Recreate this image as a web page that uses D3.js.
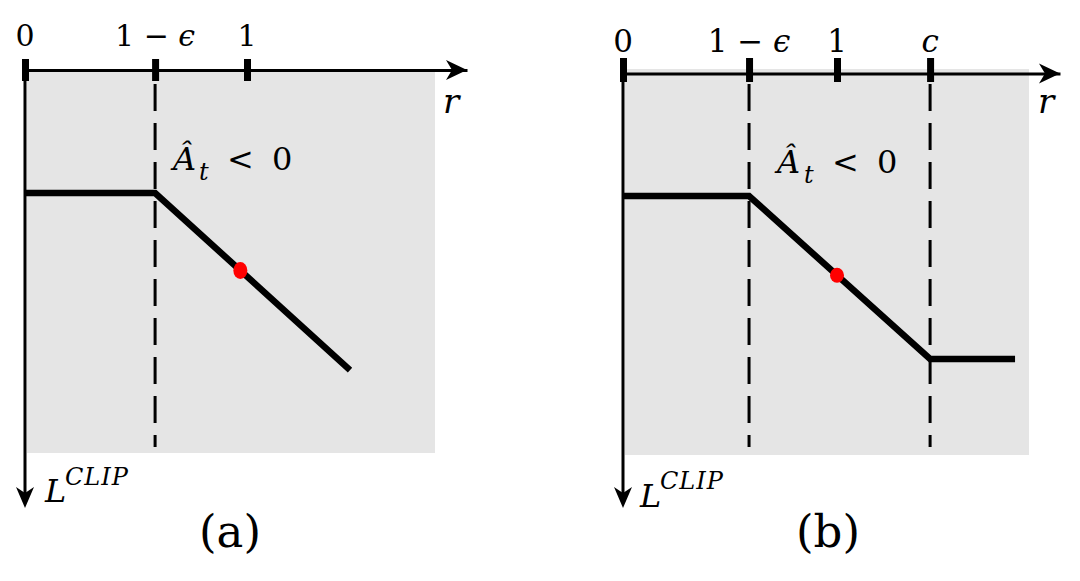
<!DOCTYPE html>
<html><head><meta charset="utf-8">
<script src="https://cdn.jsdelivr.net/npm/d3@7"></script>
<style>body{margin:0;background:#fff}svg{display:block}
svg text{font-family:"DejaVu Serif",serif;}</style>
</head><body>
<svg id="c" width="1080" height="581"></svg>
<script>
// ---------- data ----------
const panelNames = ["(a)", "(b)"];
const tickValuesA = [0, 0.586, 1];
const tickLabelsA = ["0", "1 − ϵ", "1"];
const curveRA = [0, 0.586, 1.464];
const curveLA = [0.586, 0.586, 1.464];
const dashedRA = [0.586];
const dotA = [0.97, 0.97];

const tickValuesB = [0, 0.589, 1, 1.435];
const tickLabelsB = ["0", "1 − ϵ", "1", "c"];
const curveRB = [0, 0.589, 1.435, 1.832];
const curveLB = [0.589, 0.589, 1.435, 1.435];
const dashedRB = [0.589, 1.435];
const dotB = [1.0, 1.0];

const xAxisLabel = "r";
const yAxisLabel = ["L", "CLIP"];
const regionLabel = ["Â", "t", "<", "0"];

// ---------- layout ----------
const layouts = [
  {ticks: tickValuesA, labels: tickLabelsA, cr: curveRA, cl: curveLA, dashed: dashedRA, dot: dotA,
   x0: 25, xUnit: 222, rTip: 1.991, axisY: 70, tickTop: 59, tickBot: 81, labelY: 46, fs: 30,
   yOrigin: 74.9, yUnit: 201.6, yTip: 508, gray: [27, 72, 435, 453], dashTop: 84, dashBot: 447,
   rX: 443, rY: 113, aX: 173, aY: 170, tX: 199, lessX: 227, zeroX: 272,
   LX: 45, LY: 502, clipX: 65, clipY: 485, capX: 230, capY: 547, dotRx: 7, dotRy: 8.5},
  {ticks: tickValuesB, labels: tickLabelsB, cr: curveRB, cl: curveLB, dashed: dashedRB, dot: dotB,
   x0: 623, xUnit: 214, rTip: 2.042, axisY: 73.5, tickTop: 58, tickBot: 82, labelY: 52, fs: 31,
   yOrigin: 82.5, yUnit: 192.7, yTip: 508, gray: [625, 69, 1029, 455], dashTop: 84, dashBot: 447,
   rX: 1038, rY: 113, aX: 777, aY: 173, tX: 804, lessX: 832, zeroX: 877,
   LX: 640, LY: 507, clipX: 660, clipY: 489, capX: 828, capY: 547, dotRx: 7, dotRy: 7.5}
];

const svg = d3.select("#c");

layouts.forEach((L, i) => {
  const g = svg.append("g");
  const x = d3.scaleLinear().domain([0, L.rTip]).range([L.x0, L.x0 + L.rTip * L.xUnit]);
  const y = d3.scaleLinear().domain([0, 1]).range([L.yOrigin, L.yOrigin + L.yUnit]);

  g.append("rect").attr("x", L.gray[0]).attr("y", L.gray[1])
    .attr("width", L.gray[2] - L.gray[0]).attr("height", L.gray[3] - L.gray[1])
    .attr("fill", "#e5e5e5");

  g.selectAll(".dash").data(L.dashed).join("line")
    .attr("x1", d => x(d)).attr("x2", d => x(d))
    .attr("y1", L.dashTop).attr("y2", L.dashBot)
    .attr("stroke", "#000").attr("stroke-width", 3).attr("stroke-dasharray", "27,12");

  const ax = g.append("g").attr("transform", `translate(0,${L.axisY})`)
    .call(d3.axisTop(x).tickValues(L.ticks).tickSizeInner(10).tickSizeOuter(0).tickFormat(() => ""));
  ax.select(".domain").attr("stroke", "#000").attr("stroke-width", 3);
  ax.selectAll(".tick line").attr("stroke", "#000").attr("stroke-width", 7)
    .attr("y1", L.tickTop - L.axisY).attr("y2", L.tickBot - L.axisY);
  const tip = x(L.rTip);
  g.append("path")
    .attr("d", `M${tip},${L.axisY} L${tip - 21},${L.axisY - 10} L${tip - 15},${L.axisY} L${tip - 21},${L.axisY + 10} Z`)
    .attr("fill", "#000");

  L.ticks.forEach((v, k) => {
    const t = g.append("text").attr("x", x(v)).attr("y", L.labelY)
      .attr("text-anchor", "middle").style("font-size", L.fs + "px").attr("fill", "#000");
    const parts = L.labels[k].match(/[A-Za-zϵ]+|[^A-Za-zϵ]+/g);
    parts.forEach(p => {
      t.append("tspan").text(p).style("font-style", /[A-Za-zϵ]/.test(p) ? "italic" : "normal");
    });
  });

  g.append("line").attr("x1", L.x0).attr("x2", L.x0).attr("y1", L.axisY - 1).attr("y2", L.yTip - 12)
    .attr("stroke", "#000").attr("stroke-width", 3);
  g.append("path")
    .attr("d", `M${L.x0},${L.yTip} L${L.x0 - 9},${L.yTip - 21} L${L.x0},${L.yTip - 15} L${L.x0 + 9},${L.yTip - 21} Z`)
    .attr("fill", "#000");

  const pts = L.cr.map((r, k) => [r, L.cl[k]]);
  g.append("path").datum(pts)
    .attr("d", d3.line().x(d => x(d[0])).y(d => y(d[1])))
    .attr("fill", "none").attr("stroke", "#000").attr("stroke-width", 6.5)
    .attr("stroke-linejoin", "miter").attr("stroke-linecap", "butt");

  g.append("ellipse").attr("cx", x(L.dot[0])).attr("cy", y(L.dot[1]))
    .attr("rx", L.dotRx).attr("ry", L.dotRy).attr("fill", "#ff0000");

  g.append("text").attr("x", L.rX).attr("y", L.rY)
    .style("font-size", "34px").style("font-style", "italic").text(xAxisLabel);

  const yl = g.append("text").attr("fill", "#000");
  yl.append("tspan").attr("x", L.LX).attr("y", L.LY).style("font-size", "32px").style("font-style", "italic").text(yAxisLabel[0]);
  yl.append("tspan").attr("x", L.clipX).attr("y", L.clipY).style("font-size", "24px").style("font-style", "italic")
    .style("letter-spacing", "1px").text(yAxisLabel[1]);

  const rl = g.append("text").attr("fill", "#000");
  rl.append("tspan").attr("x", L.aX).attr("y", L.aY).style("font-size", "32px").style("font-style", "italic").text(regionLabel[0]);
  rl.append("tspan").attr("x", L.tX).attr("y", L.aY + 10).style("font-size", "24px").style("font-style", "italic").text(regionLabel[1]);
  rl.append("tspan").attr("x", L.lessX).attr("y", L.aY).style("font-size", "32px").text(regionLabel[2]);
  rl.append("tspan").attr("x", L.zeroX).attr("y", L.aY).style("font-size", "32px").text(regionLabel[3]);

  g.append("text").attr("x", L.capX).attr("y", L.capY).attr("text-anchor", "middle")
    .style("font-size", "45px").text(panelNames[i]);
});
</script>
</body></html>
